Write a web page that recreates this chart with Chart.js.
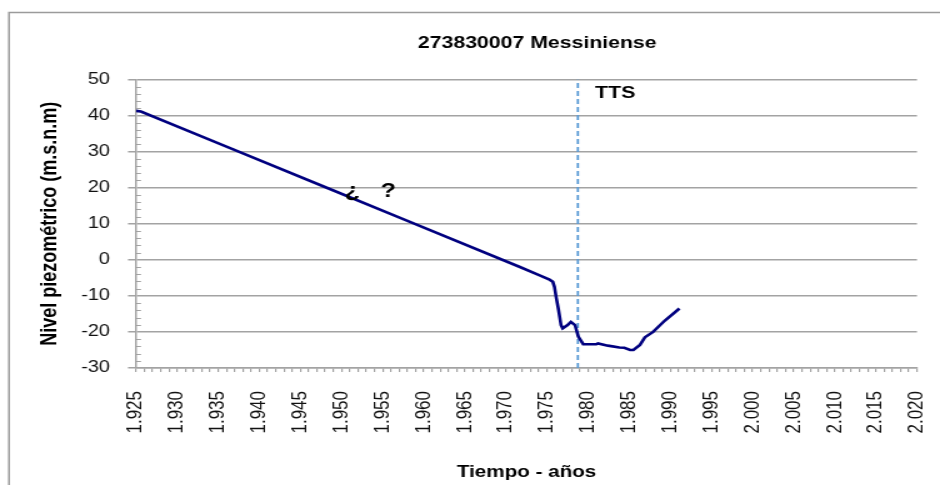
<!DOCTYPE html>
<html lang="es">
<head>
<meta charset="utf-8">
<title>273830007 Messiniense</title>
<script src="https://cdn.jsdelivr.net/npm/chart.js@4.4.1/dist/chart.umd.min.js"></script>
<style>
  html, body { margin: 0; padding: 0; background: #ffffff; overflow: hidden; }
  /* the chart is laid out on a narrower canvas and widened 1.25x, as in the original sheet export */
  #frame { position: absolute; left: 0; top: 0; width: 752px; height: 485px;
           transform: scaleX(1.25); transform-origin: 0 0; }
</style>
</head>
<body>
<div id="frame"><canvas id="chart"></canvas></div>
<script>
// Piezometric level of well 273830007 (Messiniense aquifer)
const years  = [1925.0, 1925.6, 1936.3, 1948.5, 1957.8, 1971.7, 1974.1, 1975.3, 1975.7, 1975.9,
                1976.1, 1976.4, 1976.7, 1976.9, 1977.5, 1977.9, 1978.4, 1978.8, 1979.4, 1981.0,
                1981.2, 1982.4, 1983.8, 1984.4, 1985.1, 1985.5, 1986.3, 1986.9, 1987.9, 1989.3,
                1991.1];
const levels = [41.3, 41.1, 31.1, 19.7, 11.0, -2.0, -4.3, -5.5, -6.1, -7.5,
                -10.3, -13.9, -18.1, -19.0, -18.1, -17.2, -18.1, -21.3, -23.4, -23.4,
                -23.2, -23.8, -24.3, -24.4, -25.0, -25.0, -23.6, -21.5, -20.0, -16.9,
                -13.5];

// Year axis labels (Spanish thousands separator), one every five years
const xTickLabels = ['1.925', '1.930', '1.935', '1.940', '1.945', '1.950', '1.955', '1.960',
                     '1.965', '1.970', '1.975', '1.980', '1.985', '1.990', '1.995', '2.000',
                     '2.005', '2.010', '2.015', '2.020'];
const yTickLabels = ['-30', '-20', '-10', '0', '10', '20', '30', '40', '50'];

const ttsYear = 1978.75;   // start of the TTS transfer
const chartTitle = '273830007 Messiniense';

const xMin = 1925, xMax = 2020, yMin = -30, yMax = 50;
const gridGray = '#a3a3a3';
const FONT = 'Liberation Sans';

Chart.defaults.font.family = FONT;

// Text notes placed in data space
const notes = [
  { text: 'TTS', x: 1980.85, y: 44.9, align: 'left',   font: `bold 17px "${FONT}"` },
  { text: '¿',   x: 1951.3,  y: 17.3, align: 'center', font: `bold 20px "${FONT}"` },
  { text: '?',   x: 1955.7,  y: 17.3, align: 'center', font: `bold 20px "${FONT}"` }
];

// Outer sheet frame (left and top edges)
const framePlugin = {
  id: 'sheetFrame',
  beforeDraw(chart) {
    const { ctx, width, height } = chart;
    ctx.save();
    ctx.strokeStyle = '#9b9b9b';
    ctx.lineWidth = 1.5;
    ctx.beginPath();
    ctx.moveTo(7.2, height);
    ctx.lineTo(7.2, 12.5);
    ctx.lineTo(width, 12.5);
    ctx.stroke();
    ctx.restore();
  }
};

// Minor ticks on the inside of the value axis, every 2 m
const minorTicksPlugin = {
  id: 'minorTicks',
  beforeDatasetsDraw(chart) {
    const { ctx, chartArea } = chart;
    const ys = chart.scales.y;
    ctx.save();
    ctx.strokeStyle = gridGray;
    ctx.lineWidth = 1.2;
    ctx.beginPath();
    for (let v = ys.min; v <= ys.max; v += 2) {
      if (v % 10 === 0) continue;
      const py = Math.round(ys.getPixelForValue(v)) + 0.5;
      ctx.moveTo(chartArea.left, py);
      ctx.lineTo(chartArea.left + 4, py);
    }
    ctx.stroke();
    ctx.restore();
  }
};

// Chart title and text notes
const textPlugin = {
  id: 'chartTexts',
  afterDatasetsDraw(chart) {
    const { ctx, chartArea } = chart;
    const xs = chart.scales.x, ys = chart.scales.y;
    ctx.save();
    ctx.fillStyle = '#000000';
    ctx.textBaseline = 'alphabetic';
    ctx.font = `bold 17px "${FONT}"`;
    ctx.textAlign = 'center';
    ctx.fillText(chartTitle, (chartArea.left + chartArea.right) / 2 + 8.6, 48.3);
    notes.forEach(n => {
      ctx.font = n.font;
      ctx.textAlign = n.align;
      ctx.fillText(n.text, xs.getPixelForValue(n.x), ys.getPixelForValue(n.y));
    });
    ctx.restore();
  }
};

new Chart(document.getElementById('chart'), {
  type: 'line',
  data: {
    datasets: [
      {
        label: 'Nivel piezométrico',
        data: years.map((yr, i) => ({ x: yr, y: levels[i] })),
        borderColor: '#00007f',
        borderWidth: 2.6,
        pointRadius: 0,
        tension: 0,
        fill: false
      },
      {
        label: 'TTS',
        data: [{ x: ttsYear, y: yMin }, { x: ttsYear, y: yMax }],
        borderColor: '#5b9bd5',
        borderWidth: 1.8,
        borderDash: [5, 3],
        pointRadius: 0,
        fill: false
      }
    ]
  },
  options: {
    responsive: true,
    maintainAspectRatio: false,
    animation: false,
    layout: { padding: { left: 29.3, right: 18.4, top: 79.5, bottom: 0 } },
    plugins: {
      legend: { display: false },
      tooltip: { enabled: false },
      title: { display: false }
    },
    scales: {
      x: {
        type: 'linear',
        min: xMin,
        max: xMax,
        afterFit(scale) {
          scale.height = 117;
          scale.paddingLeft = 0;
          scale.paddingRight = 0;
        },
        grid: { drawOnChartArea: false, drawTicks: true, tickLength: 4, color: gridGray, lineWidth: 1.2 },
        border: { display: true, color: gridGray, width: 1.5 },
        ticks: {
          stepSize: 1,
          autoSkip: false,
          minRotation: 90,
          maxRotation: 90,
          padding: 19,
          color: '#111111',
          font: { size: 17 },
          callback(v) {
            const r = Math.round(v);
            return (r - xMin) % 5 === 0 ? xTickLabels[(r - xMin) / 5] : '';
          }
        },
        title: {
          display: true,
          text: 'Tiempo - años',
          color: '#000000',
          font: { size: 16.5, weight: 'bold' },
          padding: { top: 0, bottom: 3 }
        }
      },
      y: {
        type: 'linear',
        min: yMin,
        max: yMax,
        afterFit(scale) { scale.width = 79.5; },
        grid: { drawOnChartArea: true, drawTicks: true, tickLength: 6.4, color: gridGray, lineWidth: 1.5 },
        border: { display: true, color: gridGray, width: 1.5 },
        ticks: {
          stepSize: 10,
          padding: 14.4,
          color: '#111111',
          font: { size: 16 },
          callback(v) {
            const i = Math.round((v - yMin) / 10);
            return yTickLabels[i];
          }
        },
        title: {
          display: true,
          text: 'Nivel piezométrico (m.s.n.m)',
          color: '#000000',
          font: { size: 18, weight: 'bold' },
          padding: { top: 0, bottom: 0 }
        }
      }
    }
  },
  plugins: [framePlugin, minorTicksPlugin, textPlugin]
});
</script>
</body>
</html>
